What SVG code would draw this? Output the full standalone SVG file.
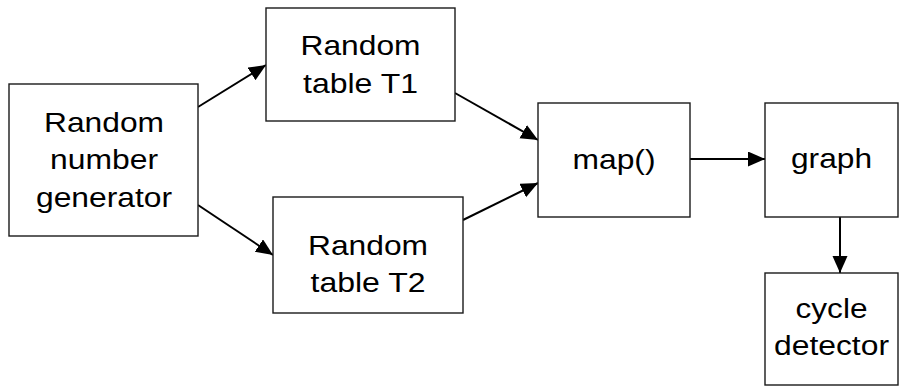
<svg xmlns="http://www.w3.org/2000/svg" width="907" height="389" viewBox="0 0 907 389">
<style>
.box{fill:#fff;stroke:#1a1a1a;stroke-width:1.4}
.lbl{font-family:"Liberation Sans",Arial,sans-serif;font-size:27.5px;fill:#000;text-anchor:middle}
.edge{stroke:#000;stroke-width:2;fill:none}
</style>
<defs>
<marker id="ah" markerUnits="userSpaceOnUse" markerWidth="18" markerHeight="16" refX="17" refY="7.5" orient="auto">
<path d="M0,0 L17,7.5 L0,15 z" fill="#000"/>
</marker>
</defs>
<rect width="907" height="389" fill="#fff"/>
<g id="edges">
<line class="edge" x1="198" y1="107" x2="266" y2="65" marker-end="url(#ah)"/>
<line class="edge" x1="198" y1="205" x2="273" y2="255" marker-end="url(#ah)"/>
<line class="edge" x1="455" y1="93" x2="538" y2="140" marker-end="url(#ah)"/>
<line class="edge" x1="463" y1="220" x2="538" y2="183" marker-end="url(#ah)"/>
<line class="edge" x1="690" y1="159" x2="765" y2="159" marker-end="url(#ah)"/>
<line class="edge" x1="840" y1="217" x2="840" y2="273" marker-end="url(#ah)"/>
</g>
<g id="rng">
<rect class="box" x="9" y="84" width="189" height="152"/>
<text class="lbl" x="104" y="131.5" textLength="120" lengthAdjust="spacingAndGlyphs">Random</text>
<text class="lbl" x="104" y="169" textLength="108" lengthAdjust="spacingAndGlyphs">number</text>
<text class="lbl" x="104" y="206.5" textLength="136" lengthAdjust="spacingAndGlyphs">generator</text>
</g>
<g id="t1">
<rect class="box" x="266" y="8" width="189" height="113"/>
<text class="lbl" x="360.5" y="55" textLength="120" lengthAdjust="spacingAndGlyphs">Random</text>
<text class="lbl" x="360.5" y="93" textLength="115" lengthAdjust="spacingAndGlyphs">table T1</text>
</g>
<g id="t2">
<rect class="box" x="273" y="197" width="190" height="116"/>
<text class="lbl" x="368" y="255" textLength="120" lengthAdjust="spacingAndGlyphs">Random</text>
<text class="lbl" x="368" y="292" textLength="115" lengthAdjust="spacingAndGlyphs">table T2</text>
</g>
<g id="map">
<rect class="box" x="538" y="103" width="152" height="114"/>
<text class="lbl" x="614" y="169" textLength="83" lengthAdjust="spacingAndGlyphs">map()</text>
</g>
<g id="graph">
<rect class="box" x="765" y="103" width="133" height="114"/>
<text class="lbl" x="831.5" y="168" textLength="81" lengthAdjust="spacingAndGlyphs">graph</text>
</g>
<g id="cycle">
<rect class="box" x="765" y="273" width="133" height="112"/>
<text class="lbl" x="831.5" y="318" textLength="72" lengthAdjust="spacingAndGlyphs">cycle</text>
<text class="lbl" x="831.5" y="355" textLength="115" lengthAdjust="spacingAndGlyphs">detector</text>
</g>
</svg>
